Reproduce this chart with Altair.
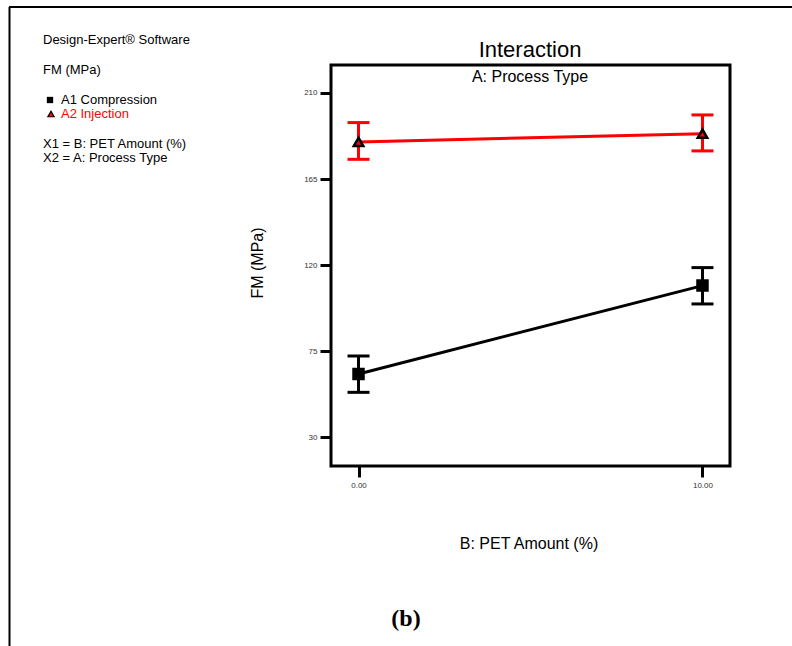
import altair as alt
import pandas as pd

# ---- data ----
pet_amount = [0, 10]
comp_mean = [63.1, 109.3]
comp_lo = [53.5, 99.7]
comp_hi = [72.5, 118.7]
inj_mean = [184.4, 188.7]
inj_lo = [175.3, 179.7]
inj_hi = [194.5, 198.5]
y_ticks = [30, 75, 120, 165, 210]
x_ticks = [0, 10]

comp = pd.DataFrame({"x": pet_amount, "y": comp_mean, "lo": comp_lo, "hi": comp_hi})
inj = pd.DataFrame({"x": pet_amount, "y": inj_mean, "lo": inj_lo, "hi": inj_hi})

OX, OY = 331, 65   # plot-area origin in page pixels
W, H = 399, 401
FONT = "Liberation Sans"

xs = alt.Scale(domain=[-0.8, 10.8], nice=False, zero=False)
ys = alt.Scale(domain=[15, 224.6], nice=False, zero=False)

xax = alt.Axis(values=x_ticks, format=".2f", title=None, domain=False, grid=False,
               tickSize=11, tickWidth=3, tickColor="black", labelFontSize=8,
               labelColor="#333333", labelPadding=4, labelFont=FONT)
yax = alt.Axis(values=y_ticks, title=None, domain=False, grid=False,
               tickSize=11, tickWidth=3, tickColor="black", labelFontSize=8,
               labelColor="#333333", labelPadding=3, labelFont=FONT)

X = alt.X("x:Q", scale=xs, axis=xax)
Y = alt.Y("y:Q", scale=ys, axis=yax)


def series(df, color, shape, fill, size):
    base = alt.Chart(df)
    line = base.mark_line(color=color, strokeWidth=3, opacity=1).encode(x=X, y=Y)
    bar = base.mark_rule(color=color, strokeWidth=3, opacity=1).encode(
        x=X, y=alt.Y("lo:Q", scale=ys, axis=yax), y2="hi:Q")
    cap_lo = base.mark_tick(color=color, thickness=3, size=22, orient="horizontal", opacity=1).encode(
        x=X, y=alt.Y("lo:Q", scale=ys, axis=yax))
    cap_hi = base.mark_tick(color=color, thickness=3, size=22, orient="horizontal", opacity=1).encode(
        x=X, y=alt.Y("hi:Q", scale=ys, axis=yax))
    pts = base.mark_point(shape=shape, filled=True, fill=fill, stroke="black",
                          strokeWidth=2.5, size=size, opacity=1).encode(x=X, y=Y)
    return [bar, cap_lo, cap_hi, line, pts]


one = alt.Data(values=[{}])


def label(txt, ax, ay, size=13, color="black", align="left", font=FONT, weight="normal", angle=0):
    kw = dict(fontSize=size, color=color, align=align, baseline="middle", font=font,
              fontWeight=weight)
    if angle:
        kw["angle"] = angle
    return alt.Chart(one).mark_text(**kw).encode(
        x=alt.value(ax - OX), y=alt.value(ay - OY), text=alt.value(txt))


texts = [
    label("Interaction", 530, 50, size=22, align="center"),
    label("A: Process Type", 530, 77, size=16, align="center"),
    label("FM (MPa)", 258, 263, size=16, align="center", angle=270),
    label("B: PET Amount (%)", 529, 544, size=16, align="center"),
    label("(b)", 406, 619, size=24, align="center", font="Liberation Serif", weight="bold"),
    label("Design-Expert® Software", 43, 40),
    label("FM (MPa)", 43, 70),
    label("A1 Compression", 61, 100),
    label("A2 Injection", 61, 114, color="red"),
    label("X1 = B: PET Amount (%)", 43, 144),
    label("X2 = A: Process Type", 43, 158),
]

legend_marks = [
    alt.Chart(one).mark_point(shape="square", filled=True, color="black", size=40, opacity=1).encode(
        x=alt.value(50 - OX), y=alt.value(100 - OY)),
    alt.Chart(one).mark_point(shape="triangle-up", filled=True, fill="red", stroke="black",
                              strokeWidth=1.2, size=40, opacity=1).encode(
        x=alt.value(51 - OX), y=alt.value(114 - OY)),
]

frame = [
    alt.Chart(one).mark_rule(color="black", strokeWidth=2).encode(
        x=alt.value(9 - OX), x2=alt.value(792 - OX), y=alt.value(7 - OY)),
    alt.Chart(one).mark_rule(color="black", strokeWidth=2).encode(
        x=alt.value(9.5 - OX), y=alt.value(7 - OY), y2=alt.value(646 - OY)),
]

layers = (series(comp, "black", "square", "black", 100)
          + series(inj, "red", "triangle-up", "red", 90)
          + texts + legend_marks + frame)

chart = alt.layer(*layers).properties(
    width=W, height=H,
    autosize=alt.AutoSizeParams(type="none"),
    padding={"left": OX, "top": OY, "right": 792 - OX - W, "bottom": 646 - OY - H},
    background="white",
).configure_view(stroke="black", strokeWidth=3)

chart.save("out.html", embed_options={"renderer": "svg", "actions": False})
